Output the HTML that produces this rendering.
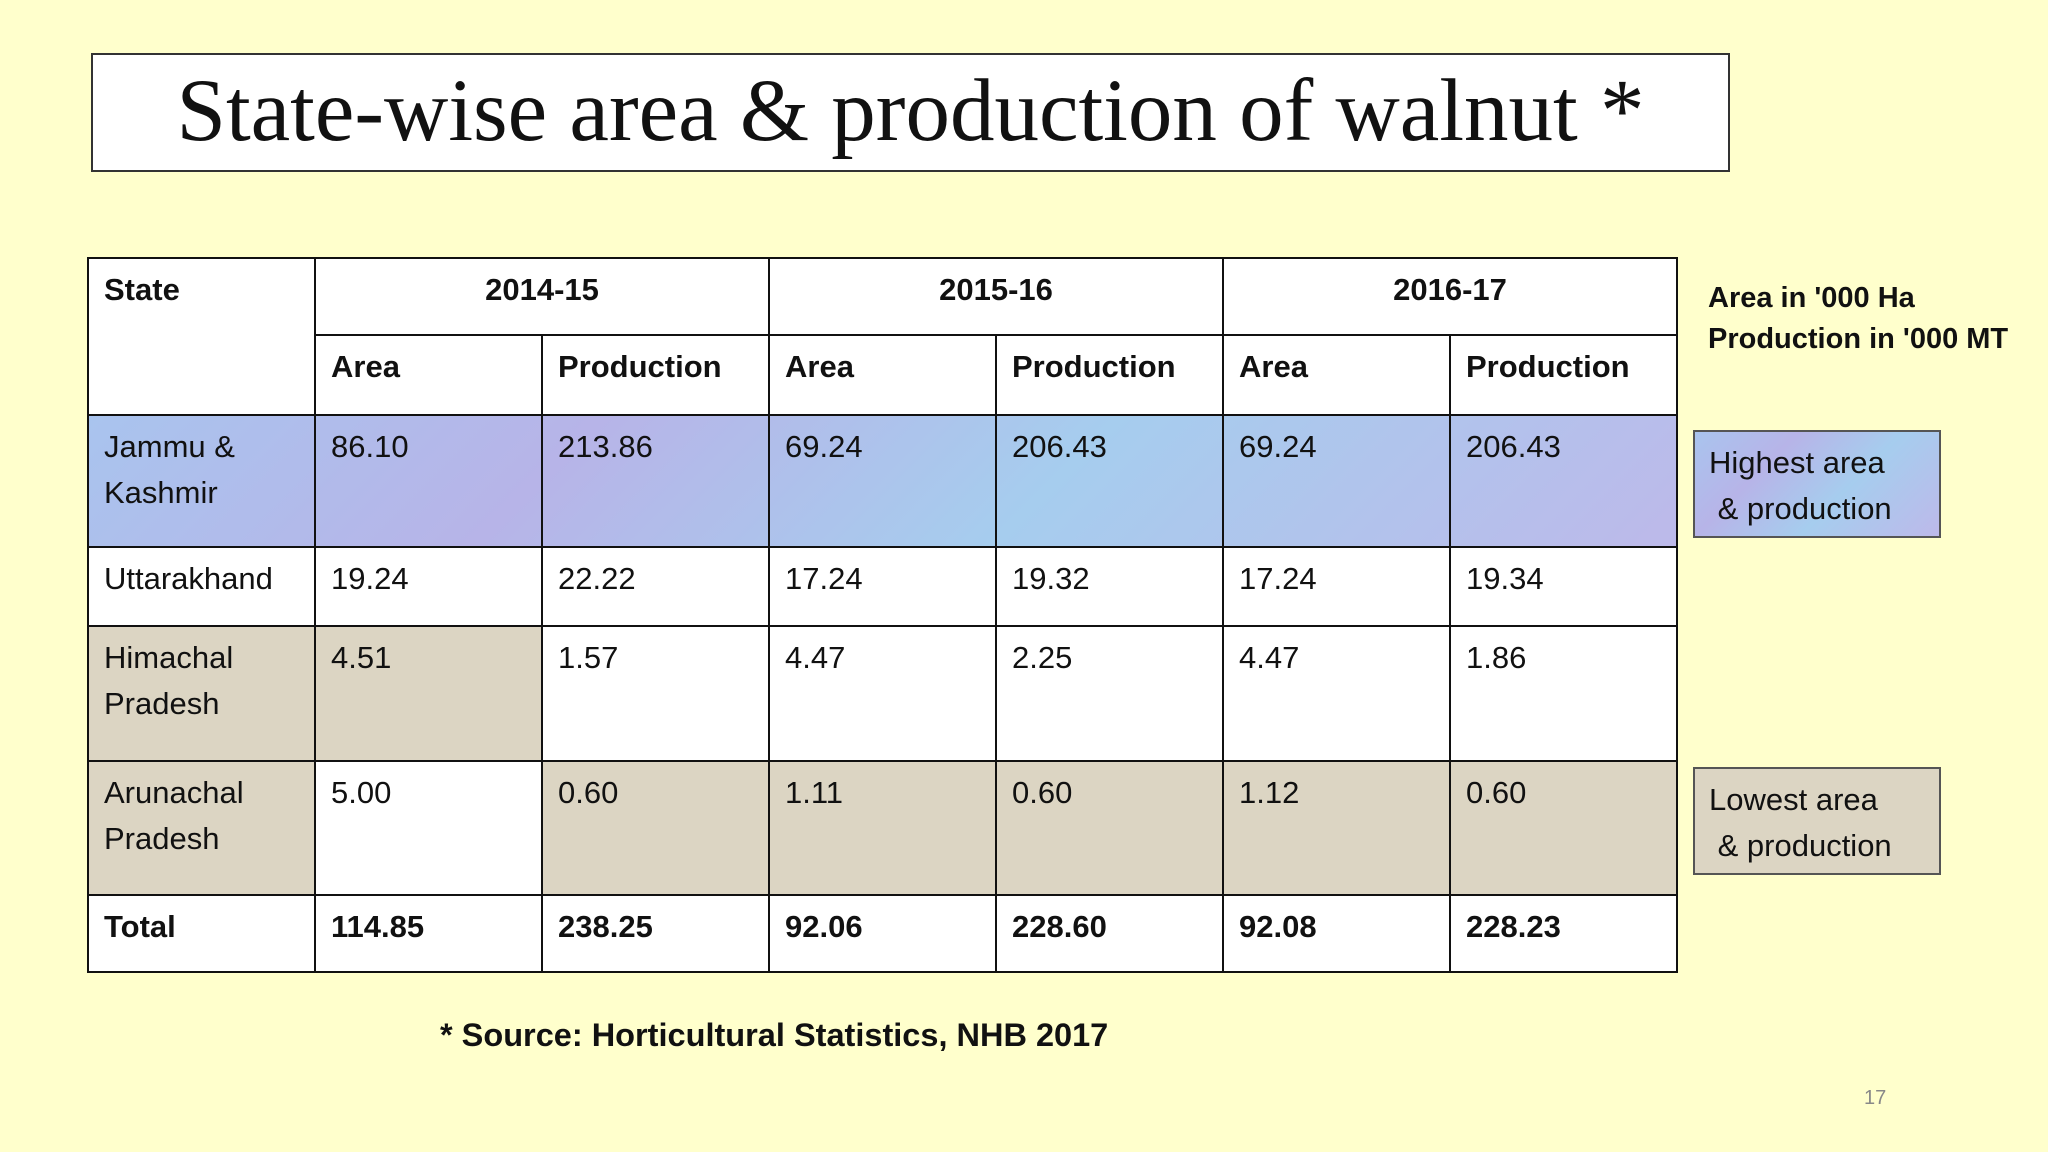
<!DOCTYPE html>
<html><head><meta charset="utf-8"><style>
body{margin:0;width:2048px;height:1152px;background:#ffffcc;position:relative;overflow:hidden;font-family:"Liberation Sans",sans-serif;}
.title{position:absolute;left:91px;top:53px;width:1639px;height:119px;border:2px solid #333;background:#fff;box-sizing:border-box;text-align:center;font-family:"Liberation Serif",serif;font-size:89px;line-height:112px;color:#111;}
table{position:absolute;left:87px;top:257px;border-collapse:collapse;table-layout:fixed;}
td{border:2px solid #111;vertical-align:top;padding:8px 0 0 15px;font-size:31px;line-height:46px;color:#111;box-sizing:border-box;}
.b{font-weight:bold;}
.c{text-align:center;padding-left:0;}
.blue{background:linear-gradient(135deg,#a9c4ee,#b7b4e8 30%,#a6cdee 60%,#bdb9ea);}
.tan{background:#dcd5c3;}
.w{background:#fff;}
.lab{position:absolute;left:1708px;font-weight:bold;font-size:29px;color:#111;}
.box{position:absolute;left:1693px;width:248px;height:108px;border:2px solid #555;box-sizing:border-box;font-size:31px;line-height:46px;padding:8px 0 0 14px;color:#111;}
</style></head><body>
<div class="title">State-wise area &amp; production of walnut *</div>
<table>
<colgroup><col style="width:227px"><col style="width:227px"><col style="width:227px"><col style="width:227px"><col style="width:227px"><col style="width:227px"><col style="width:227px"></colgroup>
<tr style="height:77px" class="w"><td rowspan="2" class="b">State</td><td colspan="2" class="b c">2014-15</td><td colspan="2" class="b c">2015-16</td><td colspan="2" class="b c">2016-17</td></tr>
<tr style="height:80px" class="w"><td class="b">Area</td><td class="b">Production</td><td class="b">Area</td><td class="b">Production</td><td class="b">Area</td><td class="b">Production</td></tr>
<tr style="height:132px" class="blue"><td>Jammu &amp;<br>Kashmir</td><td>86.10</td><td>213.86</td><td>69.24</td><td>206.43</td><td>69.24</td><td>206.43</td></tr>
<tr style="height:79px" class="w"><td>Uttarakhand</td><td>19.24</td><td>22.22</td><td>17.24</td><td>19.32</td><td>17.24</td><td>19.34</td></tr>
<tr style="height:135px" class="w"><td class="tan">Himachal<br>Pradesh</td><td class="tan">4.51</td><td>1.57</td><td>4.47</td><td>2.25</td><td>4.47</td><td>1.86</td></tr>
<tr style="height:134px" class="tan"><td>Arunachal<br>Pradesh</td><td class="w">5.00</td><td>0.60</td><td>1.11</td><td>0.60</td><td>1.12</td><td>0.60</td></tr>
<tr style="height:77px" class="w"><td class="b">Total</td><td class="b">114.85</td><td class="b">238.25</td><td class="b">92.06</td><td class="b">228.60</td><td class="b">92.08</td><td class="b">228.23</td></tr>
</table>
<div class="lab" style="top:282px">Area in '000 Ha</div>
<div class="lab" style="top:323px">Production in '000 MT</div>
<div class="box blue" style="top:430px">Highest area<br>&nbsp;&amp; production</div>
<div class="box tan" style="top:767px">Lowest area<br>&nbsp;&amp; production</div>
<div style="position:absolute;left:440px;top:1017px;font-weight:bold;font-size:32.5px;color:#111;">* Source: Horticultural Statistics, NHB 2017</div>
<div style="position:absolute;left:1864px;top:1087px;font-size:20px;color:#888;">17</div>
</body></html>
